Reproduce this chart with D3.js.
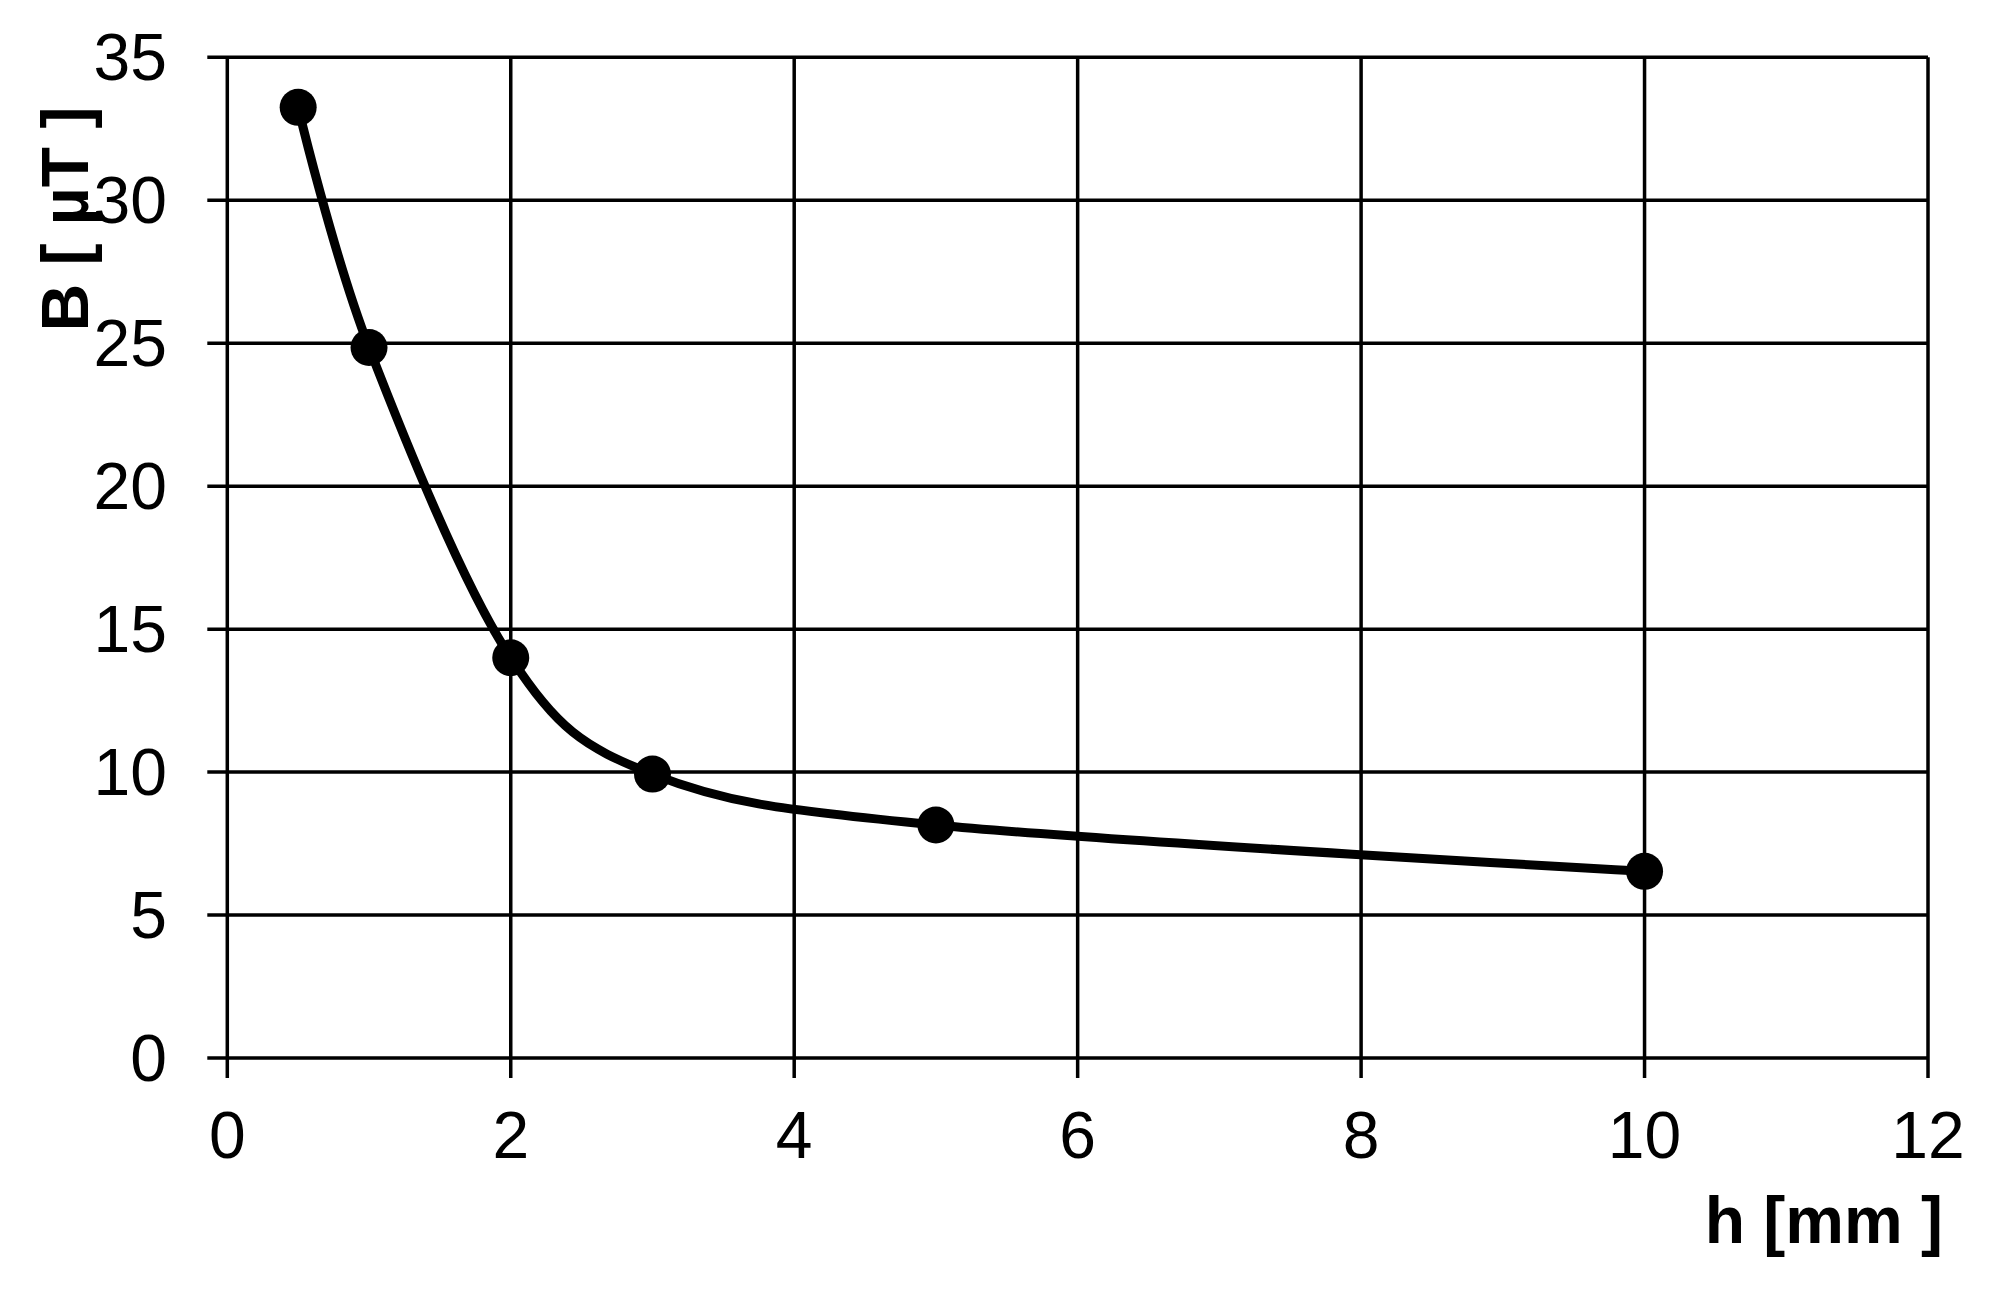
<!DOCTYPE html>
<html>
<head>
<meta charset="utf-8">
<script src="https://cdn.jsdelivr.net/npm/d3@7"></script>
<style>
  html, body { margin: 0; padding: 0; background: #fff; }
  svg { display: block; }
  text { font-family: "Liberation Sans", Arial, sans-serif; fill: #000; }
</style>
</head>
<body>
<script>
// Data
const hValues = [0.5, 1, 2, 3, 5, 10];
const bValues = [33.25, 24.85, 14.0, 9.93, 8.15, 6.53];
const xTicks = [0, 2, 4, 6, 8, 10, 12];
const yTicks = [0, 5, 10, 15, 20, 25, 30, 35];
const xTitle = "h [mm ]";
const yTitle = "B [ µT ]";

const W = 1998, H = 1304;
const plotL = 227.3, plotR = 1928, plotT = 57.3, plotB = 1058;

const svg = d3.select("body").append("svg").attr("width", W).attr("height", H);

const x = d3.scaleLinear().domain([0, 12]).range([plotL, plotR]);
const y = d3.scaleLinear().domain([0, 35]).range([plotB, plotT]);

// Gridlines
const grid = svg.append("g");
grid.selectAll("line.v").data(xTicks).enter().append("line")
  .attr("class", "v")
  .attr("x1", d => x(d)).attr("x2", d => x(d))
  .attr("y1", plotT).attr("y2", plotB + 20)
  .attr("stroke", "#000").attr("stroke-width", 3.5);
grid.selectAll("line.h").data(yTicks).enter().append("line")
  .attr("class", "h")
  .attr("x1", plotL - 20).attr("x2", plotR)
  .attr("y1", d => y(d)).attr("y2", d => y(d))
  .attr("stroke", "#000").attr("stroke-width", 3.5);

// Tick labels
svg.append("g").selectAll("text").data(xTicks).enter().append("text")
  .attr("x", d => x(d)).attr("y", 1158)
  .attr("text-anchor", "middle").attr("font-size", 66)
  .text(d => d);
svg.append("g").selectAll("text").data(yTicks).enter().append("text")
  .attr("x", 167).attr("y", d => y(d)).attr("dy", "0.35em")
  .attr("text-anchor", "end").attr("font-size", 66)
  .text(d => d);

// Axis titles
svg.append("text")
  .attr("x", 1943).attr("y", 1243)
  .attr("text-anchor", "end").attr("font-size", 66).attr("font-weight", "bold")
  .text(xTitle);
svg.append("text")
  .attr("transform", "translate(88,219) rotate(-90)")
  .attr("text-anchor", "middle").attr("font-size", 66).attr("font-weight", "bold")
  .text(yTitle);

// Curve
const pts = hValues.map((h, i) => [h, bValues[i]]);
const line = d3.line().x(d => x(d[0])).y(d => y(d[1])).curve(d3.curveCatmullRom.alpha(0));
svg.append("path").attr("d", line(pts))
  .attr("fill", "none").attr("stroke", "#000").attr("stroke-width", 9)
  .attr("stroke-linejoin", "round");

svg.append("g").selectAll("circle").data(pts).enter().append("circle")
  .attr("cx", d => x(d[0])).attr("cy", d => y(d[1])).attr("r", 18.5)
  .attr("fill", "#000");
</script>
</body>
</html>
